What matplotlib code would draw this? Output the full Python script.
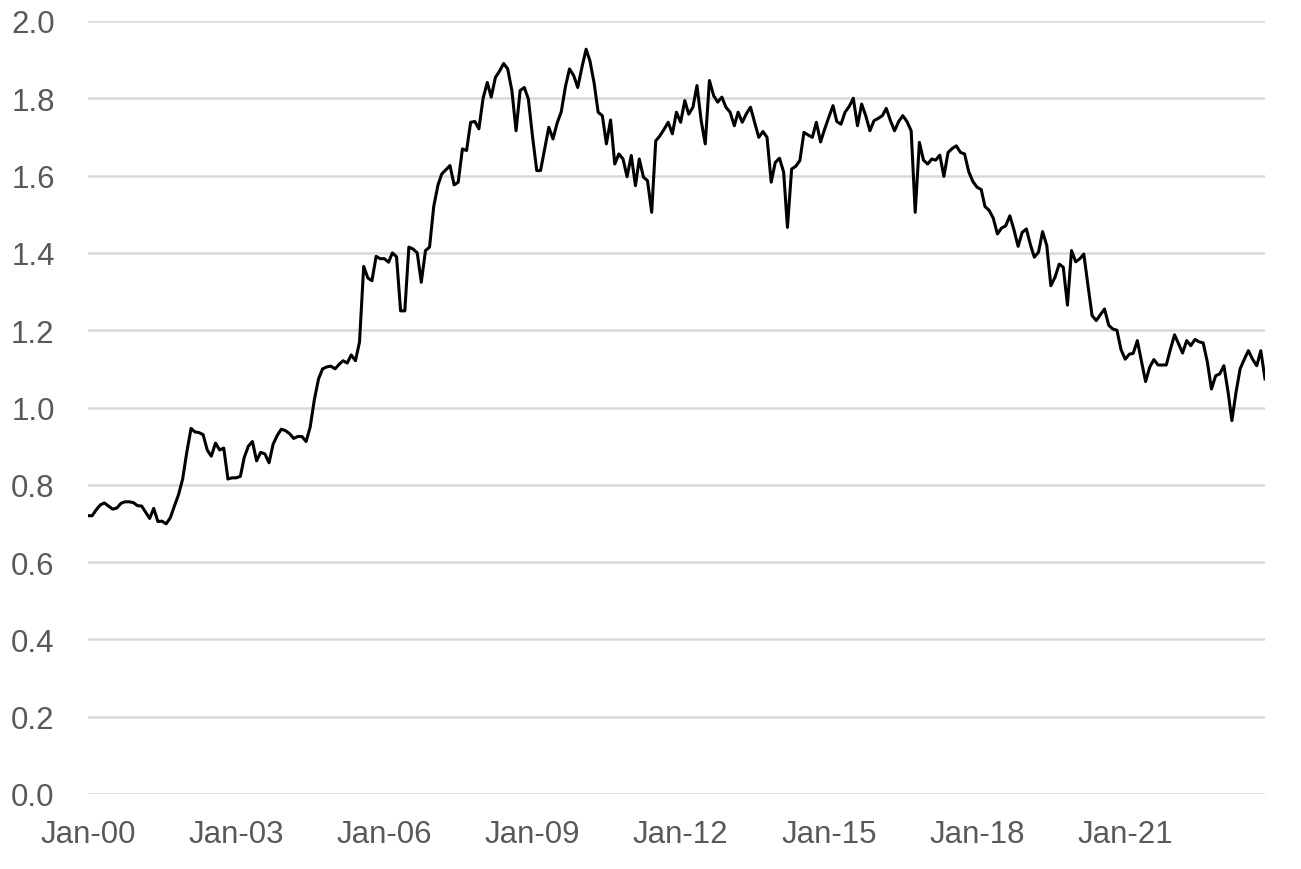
import matplotlib
matplotlib.use("Agg")
import matplotlib.pyplot as plt
import matplotlib.dates as mdates
import pandas as pd

start_date = "2000-01-01"

v2000 = [0.72, 0.72, 0.735, 0.748, 0.753, 0.745, 0.737, 0.74, 0.752, 0.756, 0.756, 0.754]
v2001 = [0.746, 0.745, 0.73, 0.713, 0.739, 0.705, 0.706, 0.699, 0.715, 0.745, 0.775, 0.815]
v2002 = [0.885, 0.946, 0.937, 0.935, 0.93, 0.89, 0.874, 0.908, 0.89, 0.895, 0.815, 0.818]
v2003 = [0.818, 0.822, 0.87, 0.90, 0.912, 0.862, 0.884, 0.88, 0.857, 0.905, 0.928, 0.944]
v2004 = [0.94, 0.932, 0.92, 0.925, 0.925, 0.912, 0.949, 1.02, 1.074, 1.10, 1.105, 1.107]
v2005 = [1.10, 1.112, 1.121, 1.115, 1.136, 1.121, 1.169, 1.365, 1.335, 1.328, 1.391, 1.385]
v2006 = [1.385, 1.376, 1.40, 1.39, 1.25, 1.25, 1.415, 1.41, 1.40, 1.324, 1.406, 1.415]
v2007 = [1.52, 1.575, 1.604, 1.615, 1.626, 1.576, 1.583, 1.669, 1.665, 1.738, 1.74, 1.721]
v2008 = [1.80, 1.841, 1.803, 1.854, 1.87, 1.89, 1.876, 1.82, 1.716, 1.82, 1.828, 1.798]
v2009 = [1.70, 1.613, 1.613, 1.67, 1.725, 1.695, 1.735, 1.765, 1.83, 1.876, 1.859, 1.828]
v2010 = [1.88, 1.927, 1.897, 1.84, 1.764, 1.755, 1.682, 1.744, 1.63, 1.656, 1.643, 1.597]
v2011 = [1.652, 1.574, 1.643, 1.596, 1.587, 1.505, 1.69, 1.703, 1.72, 1.738, 1.708, 1.764]
v2012 = [1.738, 1.794, 1.759, 1.777, 1.833, 1.742, 1.682, 1.846, 1.807, 1.79, 1.803, 1.777]
v2013 = [1.764, 1.729, 1.764, 1.738, 1.76, 1.777, 1.738, 1.699, 1.714, 1.699, 1.583, 1.634]
v2014 = [1.645, 1.609, 1.466, 1.617, 1.624, 1.639, 1.712, 1.705, 1.699, 1.738, 1.687, 1.72]
v2015 = [1.751, 1.781, 1.74, 1.733, 1.764, 1.779, 1.80, 1.729, 1.785, 1.755, 1.716, 1.742]
v2016 = [1.748, 1.755, 1.774, 1.742, 1.716, 1.74, 1.755, 1.74, 1.716, 1.505, 1.686, 1.64]
v2017 = [1.63, 1.643, 1.64, 1.653, 1.598, 1.66, 1.67, 1.677, 1.66, 1.656, 1.61, 1.585]
v2018 = [1.57, 1.564, 1.52, 1.51, 1.49, 1.449, 1.464, 1.47, 1.496, 1.46, 1.417, 1.453]
v2019 = [1.462, 1.42, 1.389, 1.402, 1.455, 1.419, 1.315, 1.337, 1.371, 1.363, 1.265, 1.406]
v2020 = [1.377, 1.385, 1.397, 1.315, 1.238, 1.225, 1.24, 1.255, 1.213, 1.203, 1.20, 1.15]
v2021 = [1.125, 1.138, 1.14, 1.173, 1.12, 1.067, 1.104, 1.124, 1.11, 1.11, 1.11, 1.15]
v2022 = [1.188, 1.164, 1.141, 1.173, 1.16, 1.176, 1.17, 1.167, 1.117, 1.048, 1.082, 1.087]
v2023 = [1.108, 1.04, 0.966, 1.04, 1.10, 1.125, 1.147, 1.125, 1.108, 1.147, 1.074]

values = (v2000 + v2001 + v2002 + v2003 + v2004 + v2005 + v2006 + v2007 + v2008 +
          v2009 + v2010 + v2011 + v2012 + v2013 + v2014 + v2015 + v2016 + v2017 +
          v2018 + v2019 + v2020 + v2021 + v2022 + v2023)
dates = pd.date_range(start_date, periods=len(values), freq="MS")

tick_years = [2000, 2003, 2006, 2009, 2012, 2015, 2018, 2021]
y_ticks = [0.0, 0.2, 0.4, 0.6, 0.8, 1.0, 1.2, 1.4, 1.6, 1.8, 2.0]

fig = plt.figure(figsize=(13.01, 8.70), dpi=100)
ax = fig.add_axes([88 / 1301, 1 - 795 / 870, (1265 - 88) / 1301, (795 - 22) / 870])

for yv in y_ticks:
    ax.axhline(yv, color="#d9d9d9", lw=1.8, zorder=1)

ax.plot(dates, values, color="black", lw=2.2, zorder=3)

ax.set_ylim(0, 2.0)
ax.set_xlim(dates[0], dates[-1])
ax.set_yticks(y_ticks)
ax.set_yticklabels([f"{v:.1f}" for v in y_ticks])
ax.set_xticks([pd.Timestamp(f"{y}-01-01") for y in tick_years])
ax.xaxis.set_major_formatter(mdates.DateFormatter("%b-%y"))

for s in ax.spines.values():
    s.set_visible(False)
ax.tick_params(axis="both", length=0, labelsize=22.5, labelcolor="#595959")
ax.tick_params(axis="y", pad=24)
ax.tick_params(axis="x", pad=18)
for lab in ax.get_xticklabels() + ax.get_yticklabels():
    lab.set_fontfamily(["Liberation Sans", "DejaVu Sans"])

fig.savefig("out.png", dpi=100, facecolor="white")
